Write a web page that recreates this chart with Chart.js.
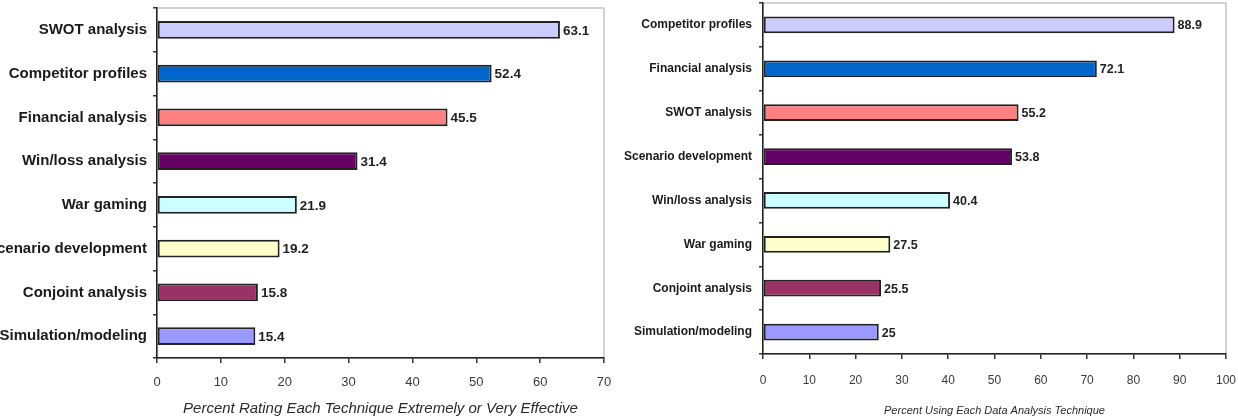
<!DOCTYPE html>
<html>
<head>
<meta charset="utf-8">
<script src="https://cdn.jsdelivr.net/npm/chart.js@4/dist/chart.umd.min.js"></script>
<style>
    html, body { margin: 0; padding: 0; background: #fff; }
    body { width: 1238px; height: 419px; position: relative; overflow: hidden; }
    .box { position: absolute; top: 0; height: 419px; }
    #leftBox { left: 0; width: 620px; }
    #rightBox { left: 620px; width: 618px; }
</style>
</head>
<body>
<div class="box" id="leftBox"><canvas id="leftChart"></canvas></div>
<div class="box" id="rightBox"><canvas id="rightChart"></canvas></div>
<script>
// =====================================
// DATA
// =====================================

const leftCategories = [
    "SWOT analysis",
    "Competitor profiles",
    "Financial analysis",
    "Win/loss analysis",
    "War gaming",
    "Scenario development",
    "Conjoint analysis",
    "Simulation/modeling"
];

const leftValues = [63.1, 52.4, 45.5, 31.4, 21.9, 19.2, 15.8, 15.4];

const leftTicks = [0, 10, 20, 30, 40, 50, 60, 70];

const rightCategories = [
    "Competitor profiles",
    "Financial analysis",
    "SWOT analysis",
    "Scenario development",
    "Win/loss analysis",
    "War gaming",
    "Conjoint analysis",
    "Simulation/modeling"
];

const rightValues = [88.9, 72.1, 55.2, 53.8, 40.4, 27.5, 25.5, 25];

const rightTicks = [0, 10, 20, 30, 40, 50, 60, 70, 80, 90, 100];

// warna bar (urutan posisi, sama di kedua chart)
const barColors = [
    "#CCCCFF",
    "#0066CC",
    "#FF8080",
    "#660066",
    "#CCFFFF",
    "#FFFFCC",
    "#993366",
    "#9999FF"
];

const FONT = "'Liberation Sans', Arial, sans-serif";

// =====================================
// PLUGINS
// =====================================

// bingkai abu-abu di sekeliling plot area
const frameBox = {
    id: "frameBox",
    beforeDraw(chart) {
        const a = chart.chartArea;
        const ctx = chart.ctx;
        ctx.save();
        ctx.strokeStyle = "#C4C4C4";
        ctx.lineWidth = 1.5;
        ctx.strokeRect(a.left, a.top, a.right - a.left, a.bottom - a.top);
        ctx.restore();
    }
};

// label nilai di ujung bar
const valueLabels = {
    id: "valueLabels",
    afterDatasetsDraw(chart, args, opts) {
        const ctx = chart.ctx;
        const meta = chart.getDatasetMeta(0);
        const values = chart.data.datasets[0].data;
        ctx.save();
        ctx.font = opts.font;
        ctx.fillStyle = "#222";
        ctx.textBaseline = "middle";
        ctx.textAlign = "left";
        meta.data.forEach((bar, i) => {
            ctx.fillText(String(values[i]), bar.x + 3, bar.y + 1);
        });
        ctx.restore();
    }
};

// =====================================
// BUILD CHART
// =====================================

function makeChart(id, cfg) {

    const canvas = document.getElementById(id);
    if (!canvas) return;

    return new Chart(canvas.getContext("2d"), {

        type: "bar",

        data: {
            labels: cfg.labels,
            datasets: [{
                data: cfg.values,
                backgroundColor: barColors,
                borderColor: "#222",
                borderWidth: 2,
                borderSkipped: false,
                barPercentage: cfg.barPct,
                categoryPercentage: 1
            }]
        },

        options: {
            indexAxis: "y",
            responsive: true,
            maintainAspectRatio: false,
            animation: false,
            layout: {
                padding: { top: cfg.top, right: cfg.right, bottom: 0, left: 0 }
            },
            plugins: {
                legend: { display: false },
                tooltip: { enabled: false },
                valueLabels: { font: cfg.valueFont }
            },
            scales: {
                x: {
                    min: 0,
                    max: cfg.ticks[cfg.ticks.length - 1],
                    afterBuildTicks(scale) {
                        scale.ticks = cfg.ticks.map(v => ({ value: v }));
                    },
                    afterFit(scale) {
                        scale.height = cfg.xHeight;
                        scale.paddingLeft = 0;
                        scale.paddingRight = 0;
                    },
                    grid: {
                        drawOnChartArea: false,
                        tickLength: 5,
                        color: "#333",
                        lineWidth: 1.5
                    },
                    border: { color: "#222", width: 1.5 },
                    ticks: {
                        padding: cfg.xPad,
                        color: "#3a3a3a",
                        font: cfg.tickFont,
                        maxRotation: 0
                    },
                    title: {
                        display: true,
                        text: cfg.title,
                        color: "#2a2a2a",
                        font: cfg.titleFont,
                        padding: { top: 0, bottom: cfg.titlePad }
                    }
                },
                y: {
                    afterFit(scale) {
                        scale.width = cfg.yWidth;
                        scale.paddingTop = 0;
                        scale.paddingBottom = 0;
                    },
                    grid: {
                        drawOnChartArea: false,
                        tickLength: 4,
                        color: "#333",
                        lineWidth: 1.5
                    },
                    border: { color: "#222", width: 1.5 },
                    ticks: {
                        padding: cfg.yPad,
                        color: "#1a1a1a",
                        font: cfg.labelFont,
                        autoSkip: false
                    }
                }
            }
        },

        plugins: [frameBox, valueLabels]

    });

}

// =====================================
// LEFT CHART
// =====================================

makeChart("leftChart", {
    labels: leftCategories,
    values: leftValues,
    ticks: leftTicks,
    barPct: 0.41,
    top: 8,
    right: 16,
    xHeight: 61,
    xPad: 12,
    yWidth: 157,
    yPad: 6,
    titlePad: 1,
    title: "Percent Rating Each Technique Extremely or Very Effective",
    labelFont: { family: FONT, size: 15, weight: "bold" },
    tickFont: { family: FONT, size: 13 },
    titleFont: { family: FONT, size: 15, style: "italic" },
    valueFont: "bold 13.5px " + FONT
});

// =====================================
// RIGHT CHART
// =====================================

makeChart("rightChart", {
    labels: rightCategories,
    values: rightValues,
    ticks: rightTicks,
    barPct: 0.38,
    top: 3,
    right: 12,
    xHeight: 65,
    xPad: 14,
    yWidth: 143,
    yPad: 7,
    titlePad: 1,
    title: "Percent Using Each Data Analysis Technique",
    labelFont: { family: FONT, size: 12, weight: "bold" },
    tickFont: { family: FONT, size: 12 },
    titleFont: { family: FONT, size: 11, style: "italic" },
    valueFont: "bold 12.5px " + FONT
});
</script>
</body>
</html>
